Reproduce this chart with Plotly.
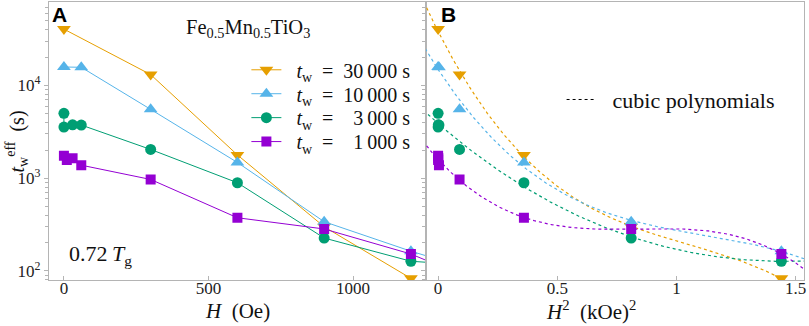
import numpy as np
import plotly.graph_objects as go

# ---------------- data ----------------
H_30000 = [0, 300, 600, 900, 1200, 1500]
t_30000 = [40500, 13100, 1780, 299, 83, 25]

H_10000 = [0, 60, 300, 600, 900, 1200, 1500]
t_10000 = [15800, 15700, 5520, 1476, 339, 163, 85]

H_3000 = [0, 0, 30, 60, 300, 600, 900, 1200, 1500]
t_3000 = [5000, 3560, 3760, 3740, 2040, 892, 226, 127, 110]

H_1000 = [0, 10, 30, 60, 300, 600, 900, 1200, 1500]
t_1000 = [1740, 1570, 1640, 1380, 968, 374, 283, 152, 62]

series_names = ["30\u2009000", "10\u2009000", "\u00a0\u00a03\u2009000", "\u00a0\u00a01\u2009000"]
colors = ["#E69F00", "#56B4E9", "#009E73", "#9400D3"]
symbols = ["triangle-down", "triangle-up", "circle", "square"]
msizes = [12, 12, 11, 10]

y_ticks = [100, 1000, 10000]
y_ticktext = ["10<sup>2</sup>", "10<sup>3</sup>", "10<sup>4</sup>"]
xA_ticks = [0, 500, 1000]
xB_ticks = [0, 0.5, 1, 1.5]
xB_ticktext = ["0", "0.5", "1", "1.5"]

W, Hh = 809, 326
def px(x):
    return x / W
def py(y):
    return 1 - y / Hh

SERIF = "Liberation Serif"
NB = "\u00a0"
fig = go.Figure()

all_H = [H_30000, H_10000, H_3000, H_1000]
all_t = [t_30000, t_10000, t_3000, t_1000]
legend_ids = ["legend", "legend3", "legend4", "legend5"]
legend_rows = [70, 94, 118, 142]

for Hs, ts, nm, c, s, ms, lg in zip(all_H, all_t, series_names, colors, symbols, msizes, legend_ids):
    fig.add_trace(go.Scatter(
        x=Hs, y=ts, mode="lines+markers",
        name=NB + NB + "<i>t</i><sub>w</sub>" + NB + NB + "=" + NB + NB + nm + " s",
        line=dict(color=c, width=1), marker=dict(symbol=s, size=ms, color=c, line=dict(width=0)),
        xaxis="x", yaxis="y", legend=lg))

# panel B: markers vs H^2 (kOe^2) and cubic polynomial fits of log10(t)
for Hs, ts, c, s, ms in zip(all_H, all_t, colors, symbols, msizes):
    Hs = np.array(Hs, float)
    ts = np.array(ts, float)
    keep = Hs <= 1200
    h2 = (Hs[keep] / 1000.0) ** 2
    coef = np.polyfit(h2, np.log10(ts[keep]), 3)
    xx = np.linspace(-0.08, 1.6, 300)
    fig.add_trace(go.Scatter(
        x=xx, y=10 ** np.polyval(coef, xx), mode="lines", showlegend=False,
        line=dict(color=c, width=1.2, dash="3px,3px"), xaxis="x2", yaxis="y2", hoverinfo="skip"))
    fig.add_trace(go.Scatter(
        x=h2, y=ts[keep], mode="markers", showlegend=False,
        marker=dict(symbol=s, size=ms, color=c, line=dict(width=0)), xaxis="x2", yaxis="y2"))

fig.add_trace(go.Scatter(x=[None], y=[None], mode="lines", name=NB + NB + "cubic polynomials",
                         line=dict(color="black", width=1, dash="3px,3px"),
                         xaxis="x2", yaxis="y2", legend="legend2"))

axcol = "#b4b4b4"
minor_vals = [m * 10 ** k for k in range(1, 5) for m in range(2, 10)]
tickfont = dict(family=SERIF, size=17, color="#222")

common_x = dict(showgrid=False, zeroline=False, showline=True, linecolor=axcol, linewidth=1,
                mirror=True, ticks="inside", ticklen=4, tickcolor=axcol, tickfont=tickfont,
                ticklabelstandoff=-8)
common_y = dict(type="log", range=[1.9, 4.9], showgrid=False, zeroline=False, showline=True,
                linecolor=axcol, linewidth=1, mirror=True, ticks="outside", ticklen=4,
                tickcolor=axcol, tickvals=y_ticks,
                minor=dict(ticks="outside", ticklen=2.5, tickcolor=axcol, tickvals=minor_vals, showgrid=False),
                domain=[py(281), py(2)])

legend_style = dict(xanchor="left", yanchor="middle", bgcolor="rgba(0,0,0,0)",
                    font=dict(family=SERIF, size=20, color="#111"), itemwidth=30)

fig.update_layout(
    width=W, height=Hh, margin=dict(l=0, r=0, t=0, b=0),
    paper_bgcolor="white", plot_bgcolor="white",
    xaxis=dict(common_x, domain=[px(49), px(427)], range=[-52, 1252], tickvals=xA_ticks, anchor="y"),
    yaxis=dict(common_y, ticktext=y_ticktext, anchor="x", tickfont=tickfont),
    xaxis2=dict(common_x, domain=[px(427), px(806)], range=[-0.051, 1.535], tickvals=xB_ticks,
                ticktext=xB_ticktext, anchor="y2"),
    yaxis2=dict(common_y, showticklabels=False, anchor="x2"),
    legend2=dict(x=px(563), y=py(100), xanchor="left", yanchor="middle", bgcolor="rgba(0,0,0,0)",
                 font=dict(family=SERIF, size=22, color="#111")),
    showlegend=True,
)
for lg, row in zip(legend_ids, legend_rows):
    fig.update_layout({lg: dict(legend_style, x=px(247), y=py(row))})

ann = [
    dict(text="<b>A</b>", x=px(60), y=py(15), font=dict(family="Liberation Sans", size=21, color="black")),
    dict(text="<b>B</b>", x=px(450), y=py(15), font=dict(family="Liberation Sans", size=21, color="black")),
    dict(text="Fe<sub>0.5</sub>Mn<sub>0.5</sub>TiO<sub>3</sub>", x=px(249), y=py(29),
         font=dict(family=SERIF, size=20.5, color="#111")),
    dict(text="0.72\u2009<i>T</i><sub>g</sub>", x=px(101), y=py(256), font=dict(family=SERIF, size=22, color="#111")),
    dict(text="<i>t</i><sub>w</sub><sup>eff</sup>\u2002(s)", x=px(17), y=py(142), textangle=-90,
         font=dict(family=SERIF, size=20, color="#111")),
    dict(text="<i>H</i>\u2002(Oe)", x=px(238), y=py(312), font=dict(family=SERIF, size=21, color="#111")),
    dict(text="<i>H</i><sup>2</sup>\u2002(kOe)<sup>2</sup>", x=px(592), y=py(311), font=dict(family=SERIF, size=21, color="#111")),
]
for a in ann:
    fig.add_annotation(xref="paper", yref="paper", showarrow=False, xanchor="center", yanchor="middle", **a)

fig.write_html("out.html", config={"displayModeBar": False},
               post_script="document.body.style.margin='0';document.body.style.overflow='hidden';")
